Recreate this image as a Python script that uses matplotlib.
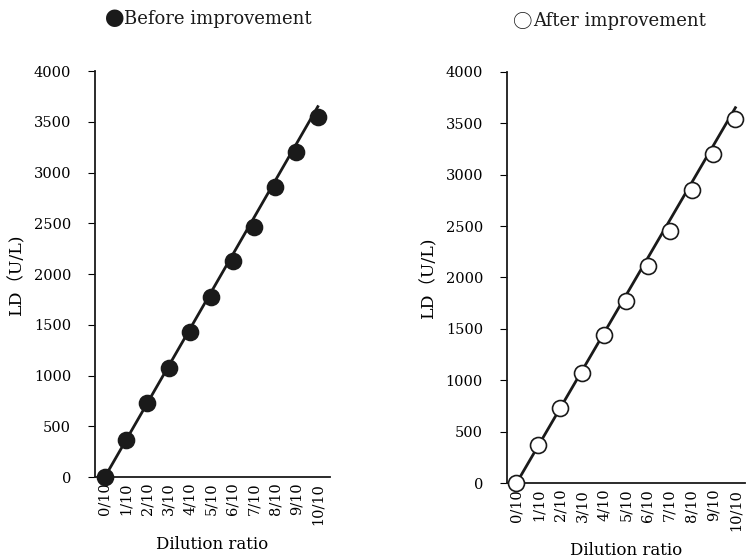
import numpy as np
import matplotlib
matplotlib.use("Agg")
import matplotlib.pyplot as plt
from matplotlib.offsetbox import TextArea, HPacker, AnnotationBbox

plt.rcParams['font.family'] = ['DejaVu Serif']

ratio_labels = ["0/10", "1/10", "2/10", "3/10", "4/10", "5/10",
                "6/10", "7/10", "8/10", "9/10", "10/10"]
before = [0, 370, 730, 1080, 1430, 1770, 2130, 2460, 2860, 3200, 3550]
after = [0, 370, 735, 1075, 1440, 1770, 2115, 2450, 2850, 3200, 3540]
# expected value of the undiluted sample, used for the straight reference line
expected_full = 3650

x = np.arange(len(ratio_labels))
line_x = np.array([0, len(ratio_labels) - 1])
line_y = line_x / (len(ratio_labels) - 1) * expected_full

fig = plt.figure(figsize=(7.46, 5.6), dpi=100)
ax1 = fig.add_axes([0.127, 0.148, 0.315, 0.725])
ax2 = fig.add_axes([0.679, 0.137, 0.320, 0.735])


def add_title(symbol, text, xc, yc):
    # symbol in a CJK font so it has the full-width size, rest in serif
    sym = TextArea(symbol, textprops=dict(fontsize=14, family='Noto Sans CJK JP',
                                          color='#1a1a1a'))
    txt = TextArea(text, textprops=dict(fontsize=13, family='DejaVu Serif',
                                        color='#1a1a1a'))
    box = HPacker(children=[sym, txt], pad=0, sep=0, align='top')
    ab = AnnotationBbox(box, (xc, yc), xycoords='figure fraction',
                        frameon=False, box_alignment=(0.5, 0.5))
    fig.add_artist(ab)


def draw_panel(ax, vals, face, xlim):
    ax.plot(line_x, line_y, color='#1a1a1a', lw=2, zorder=2)
    ax.plot(x, vals, 'o', ms=11.5, mfc=face, mec='#1a1a1a', mew=1.2, zorder=3,
            clip_on=False)
    ax.set_xlim(*xlim)
    ax.set_ylim(0, 4000)
    ax.set_yticks(range(0, 4001, 500))
    ax.set_xticks(x)
    ax.set_xticklabels(ratio_labels, rotation=90, fontsize=10.5)
    ax.tick_params(axis='x', length=0, pad=4)
    ax.tick_params(axis='y', direction='out', length=5, labelsize=10.5, pad=12)
    for s in ['top', 'right']:
        ax.spines[s].set_visible(False)
    for s in ['left', 'bottom']:
        ax.spines[s].set_linewidth(1.3)
        ax.spines[s].set_color('#1a1a1a')
    ax.set_xlabel("Dilution ratio", fontsize=12, labelpad=8)
    ax.set_ylabel("LD（U/L)", fontsize=12.5, labelpad=6,
                  family=['DejaVu Serif', 'Noto Sans CJK JP'])


draw_panel(ax1, before, '#1a1a1a', (-0.47, 10.56))
draw_panel(ax2, after, 'white', (-0.45, 10.45))
add_title("●", "Before improvement", 0.279, 0.963)
add_title("○", "After improvement", 0.817, 0.960)

fig.savefig("out.png", dpi=100)
